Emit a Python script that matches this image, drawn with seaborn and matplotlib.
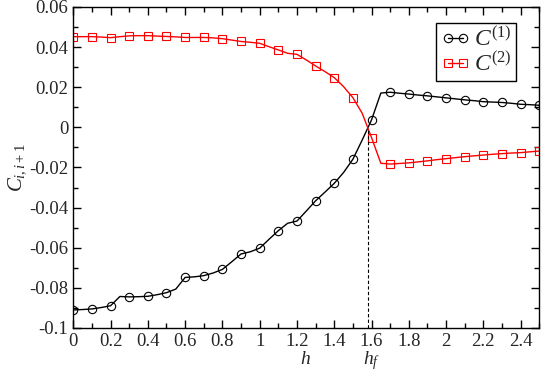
# Nearest-neighbour correlations C(1) and C(2) against the field h
import matplotlib
matplotlib.use("Agg")
import matplotlib.pyplot as plt
import matplotlib.transforms as mtransforms
from matplotlib.ticker import MultipleLocator
import seaborn as sns

h = [0.00, 0.05, 0.10, 0.15, 0.20, 0.25, 0.30, 0.35, 0.40, 0.45,
     0.50, 0.55, 0.60, 0.65, 0.70, 0.75, 0.80, 0.85, 0.90, 0.95,
     1.00, 1.05, 1.10, 1.15, 1.20, 1.25, 1.30, 1.35, 1.40, 1.45,
     1.50, 1.55, 1.60, 1.65, 1.70, 1.75, 1.80, 1.85, 1.90, 1.95,
     2.00, 2.05, 2.10, 2.15, 2.20, 2.25, 2.30, 2.35, 2.40, 2.45, 2.50]

c1 = [-0.0910, -0.0908, -0.0905, -0.0898, -0.0889, -0.0843, -0.0845, -0.0844, -0.0842, -0.0834,
      -0.0824, -0.0806, -0.0748, -0.0745, -0.0739, -0.0726, -0.0708, -0.0670, -0.0631, -0.0620,
      -0.0602, -0.0558, -0.0515, -0.0478, -0.0467, -0.0417, -0.0366, -0.0323, -0.0279, -0.0225,
      -0.0159, -0.0063, 0.0037, 0.0171, 0.0175, 0.0170, 0.0166, 0.0161, 0.0157, 0.0152,
      0.0147, 0.0142, 0.0137, 0.0133, 0.0128, 0.0126, 0.0124, 0.0120, 0.0115, 0.0113, 0.0110]

c2 = [0.0452, 0.0452, 0.0452, 0.0450, 0.0447, 0.0452, 0.0456, 0.0457, 0.0457, 0.0455,
      0.0453, 0.0451, 0.0448, 0.0448, 0.0448, 0.0446, 0.0442, 0.0435, 0.0428, 0.0424,
      0.0419, 0.0402, 0.0386, 0.0369, 0.0364, 0.0336, 0.0306, 0.0278, 0.0248, 0.0203,
      0.0148, 0.0070, -0.0051, -0.0179, -0.0183, -0.0180, -0.0177, -0.0172, -0.0167, -0.0161,
      -0.0156, -0.0151, -0.0146, -0.0142, -0.0138, -0.0134, -0.0131, -0.0128, -0.0126, -0.0122, -0.0118]

h_f = 1.583
c_cross = -0.0005


def tick_fmt(v, pos):
    v = round(v, 4)
    if v == 0:
        return "0"
    return f"{v:g}"


sns.set_style("ticks")
plt.rcParams["font.family"] = ["Liberation Serif", "DejaVu Serif"]
plt.rcParams["mathtext.fontset"] = "custom"
plt.rcParams["mathtext.rm"] = "Liberation Serif"
plt.rcParams["mathtext.it"] = "Liberation Serif:italic"

fig = plt.figure(figsize=(5.45, 3.77), dpi=100)
ax = fig.add_axes([0.1345, 0.130, 0.855, 0.8515])

sns.lineplot(x=h, y=c1, ax=ax, color="black", lw=1.0, sort=False,
             marker="o", markersize=6, markerfacecolor="none",
             markeredgecolor="black", markeredgewidth=0.8, markevery=2,
             label=r"$C^{\mathit{(1)}}$")
sns.lineplot(x=h, y=c2, ax=ax, color="red", lw=1.0, sort=False,
             marker="s", markersize=5.5, markerfacecolor="none",
             markeredgecolor="red", markeredgewidth=0.8, markevery=2,
             label=r"$C^{\mathit{(2)}}$")

ax.vlines(h_f, -0.1, c_cross, colors="black", linestyles=(0, (3, 2)), lw=0.8)

ax.set_xlim(0, 2.5)
ax.set_ylim(-0.1, 0.06)
ax.xaxis.set_major_locator(MultipleLocator(0.2))
ax.xaxis.set_minor_locator(MultipleLocator(0.1))
ax.yaxis.set_major_locator(MultipleLocator(0.02))
ax.yaxis.set_minor_locator(MultipleLocator(0.01))
ax.xaxis.set_major_formatter(plt.FuncFormatter(tick_fmt))
ax.yaxis.set_major_formatter(plt.FuncFormatter(tick_fmt))
ax.tick_params(which="both", direction="in", top=True, right=True,
               labelsize=13.5, color="black", width=1.0)
ax.tick_params(which="major", length=6, pad=3.5)
ax.tick_params(which="minor", length=3.5)
for s in ax.spines.values():
    s.set_linewidth(1.0)
    s.set_color("black")

ax.set_ylabel(r"$C_{i,i+1}$", fontsize=15, labelpad=1)
trans = mtransforms.blended_transform_factory(ax.transData, ax.transAxes)
ax.text(1.243, -0.112, r"$h$", transform=trans, ha="center", va="baseline", fontsize=14)
ax.text(1.60, -0.112, r"$h_f$", transform=trans, ha="center", va="baseline", fontsize=14)

leg = ax.legend(loc="upper right", bbox_to_anchor=(0.95, 0.95), borderaxespad=0,
                fontsize=17, numpoints=2, handlelength=1.25, handletextpad=0.15,
                fancybox=False, framealpha=1, edgecolor="black",
                borderpad=0.2, labelspacing=0.05)
leg.get_frame().set_linewidth(1.0)

plt.savefig("out.png", dpi=100)
plt.close()
